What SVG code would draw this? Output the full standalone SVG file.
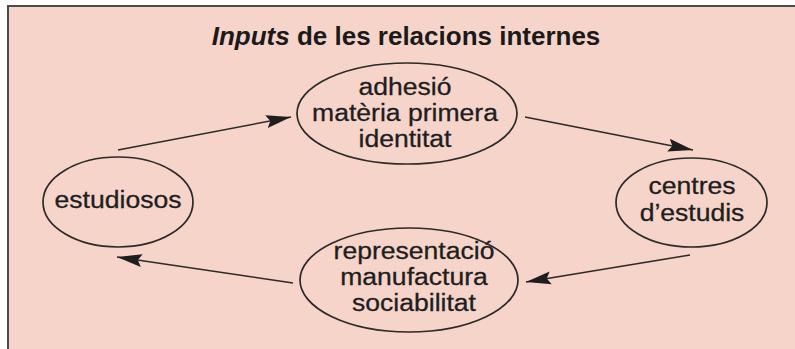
<svg xmlns="http://www.w3.org/2000/svg" width="795" height="349" viewBox="0 0 795 349">
<defs>
<style>
.bg{fill:#f6d4ca}
.frame{fill:none;stroke:#4a4a4a;stroke-width:2}
.node{fill:none;stroke:#2a2a2a;stroke-width:1.7}
.lbl{font-family:"Liberation Sans",Arial,sans-serif;font-size:23.5px;fill:#1e1e1e;stroke:#1e1e1e;stroke-width:0.3;text-anchor:middle}
.title{font-family:"Liberation Sans",Arial,sans-serif;font-size:25px;font-weight:bold;fill:#1a1a1a;text-anchor:middle}
.edge{fill:none;stroke:#2a2a2a;stroke-width:1.5;marker-end:url(#ah)}
</style>
<marker id="ah" markerUnits="userSpaceOnUse" markerWidth="26" markerHeight="14" refX="25" refY="7" orient="auto" viewBox="0 0 26 14">
<path d="M0,0.5 L25,7 L0,13.5 L4,7 z" fill="#1e1e1e"/>
</marker>
</defs>
<rect x="0" y="0" width="795" height="349" fill="#ffffff"/>
<rect class="bg" x="8" y="6" width="787" height="343"/>
<path class="frame" d="M8,349 L8,6 L795,6"/>
<g id="title">
<text class="title" transform="translate(406,45) scale(1.04,1)" x="0" y="0"><tspan font-style="italic">Inputs</tspan> de les relacions internes</text>
</g>
<g id="node-inputs-top">
<ellipse class="node" cx="407" cy="113.5" rx="110" ry="50.5"/>
<text class="lbl" transform="translate(405,0) scale(1.13,1)" x="0" y="95">adhesió</text>
<text class="lbl" transform="translate(405,0) scale(1.13,1)" x="0" y="121">matèria primera</text>
<text class="lbl" transform="translate(405,0) scale(1.13,1)" x="0" y="147">identitat</text>
</g>
<g id="node-estudiosos">
<ellipse class="node" cx="118" cy="202" rx="75" ry="45"/>
<text class="lbl" transform="translate(118,0) scale(1.13,1)" x="0" y="208">estudiosos</text>
</g>
<g id="node-centres">
<ellipse class="node" cx="691.5" cy="202.5" rx="75.5" ry="44.5"/>
<text class="lbl" transform="translate(692,0) scale(1.13,1)" x="0" y="194">centres</text>
<text class="lbl" transform="translate(692,0) scale(1.13,1)" x="0" y="221">d’estudis</text>
</g>
<g id="node-inputs-bottom">
<ellipse class="node" cx="409" cy="280" rx="109" ry="52"/>
<text class="lbl" transform="translate(414,0) scale(1.13,1)" x="0" y="259">representació</text>
<text class="lbl" transform="translate(414,0) scale(1.13,1)" x="0" y="285">manufactura</text>
<text class="lbl" transform="translate(414,0) scale(1.13,1)" x="0" y="311">sociabilitat</text>
</g>
<g id="connectors">
<line class="edge" x1="118" y1="150" x2="291" y2="117"/>
<line class="edge" x1="525" y1="117" x2="693" y2="150"/>
<line class="edge" x1="690" y1="255" x2="526" y2="282"/>
<line class="edge" x1="293" y1="283" x2="117" y2="257"/>
</g>
</svg>
